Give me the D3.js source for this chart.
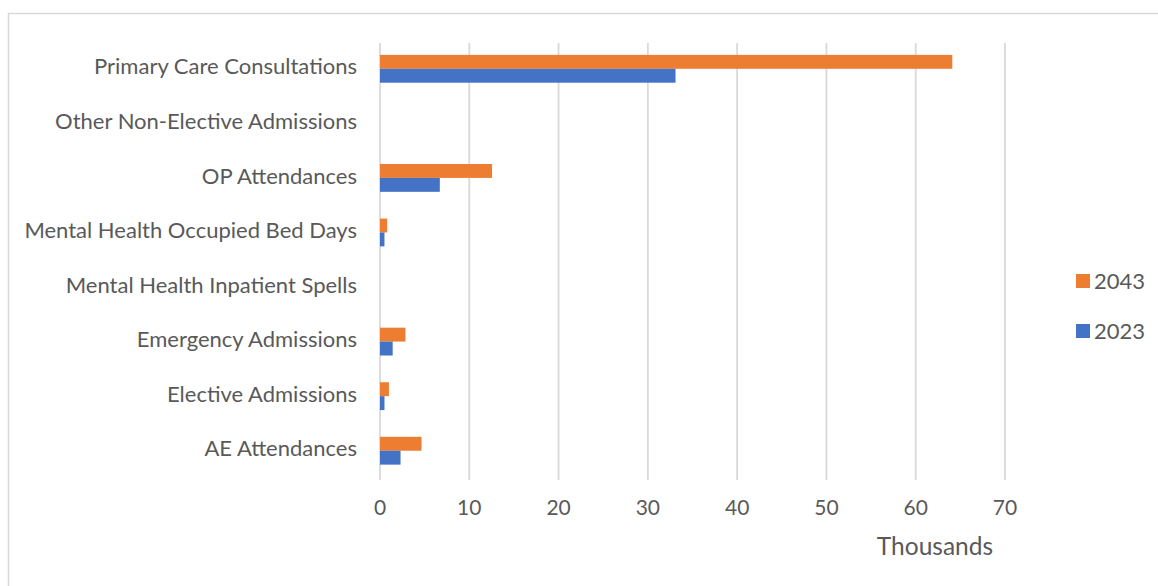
<!DOCTYPE html>
<html>
<head>
<meta charset="utf-8">
<script src="https://cdn.jsdelivr.net/npm/d3@7"></script>
<style>
  html, body { margin: 0; padding: 0; background: #fff; }
  svg text { font-family: Lato, "Open Sans", sans-serif; fill: #595959; }
</style>
</head>
<body>
<svg id="chart" width="1158" height="586"></svg>
<script>
// Activity categories, top to bottom
const categories = [
  "Primary Care Consultations",
  "Other Non-Elective Admissions",
  "OP Attendances",
  "Mental Health Occupied Bed Days",
  "Mental Health Inpatient Spells",
  "Emergency Admissions",
  "Elective Admissions",
  "AE Attendances"
];
// Values in thousands
const values2043 = [64.1, 0, 12.55, 0.8, 0, 2.85, 1.0, 4.65];
const values2023 = [33.1, 0, 6.7, 0.5, 0, 1.42, 0.5, 2.3];
const seriesNames = ["2043", "2023"];
const seriesColors = ["#ED7D31", "#4472C4"];
const xTicks = [0, 10, 20, 30, 40, 50, 60, 70];
const xTitle = "Thousands";

const svg = d3.select("#chart");

// outer frame
svg.append("rect")
  .attr("x", 8.5).attr("y", 13.5)
  .attr("width", 1158).attr("height", 586)
  .attr("fill", "none").attr("stroke", "#d9d9d9").attr("stroke-width", 1.5);

const x = d3.scaleLinear().domain([0, 70]).range([380, 1005]);
const y = d3.scaleBand().domain(categories).range([41.5, 478])
  .paddingInner(0.49).paddingOuter(0.245);
const sub = d3.scaleBand().domain(seriesNames).range([0, y.bandwidth()]);

// vertical gridlines
svg.append("g").selectAll("line").data(xTicks).join("line")
  .attr("x1", d => x(d)).attr("x2", d => x(d))
  .attr("y1", 43).attr("y2", 480)
  .attr("stroke", "#d9d9d9").attr("stroke-width", 1.8);

// bars
const series = [values2043, values2023];
series.forEach((vals, si) => {
  svg.append("g").selectAll("rect").data(categories).join("rect")
    .attr("x", x(0))
    .attr("y", c => y(c) + sub(seriesNames[si]))
    .attr("width", (c, i) => x(vals[i]) - x(0))
    .attr("height", sub.bandwidth())
    .attr("fill", seriesColors[si]);
});

// x tick labels
svg.append("g").selectAll("text").data(xTicks).join("text")
  .attr("x", d => x(d)).attr("y", 508)
  .attr("dy", "0.35em")
  .attr("text-anchor", "middle")
  .attr("font-size", 21)
  .text(d => d);

svg.append("text")
  .attr("x", 935).attr("y", 546)
  .attr("dy", "0.35em")
  .attr("text-anchor", "middle")
  .attr("font-size", 24.5)
  .text(xTitle);

// category labels
svg.append("g").selectAll("text").data(categories).join("text")
  .attr("x", 357)
  .attr("y", c => y(c) + y.bandwidth() / 2 - 2)
  .attr("dy", "0.35em")
  .attr("text-anchor", "end")
  .attr("font-size", 22)
  .text(c => c);

// legend
const legend = svg.append("g").selectAll("g").data(seriesNames).join("g")
  .attr("transform", (d, i) => `translate(1076, ${274 + i * 50})`);
legend.append("rect").attr("width", 14).attr("height", 14)
  .attr("fill", (d, i) => seriesColors[i]);
legend.append("text").attr("x", 18).attr("y", 7).attr("dy", "0.35em")
  .attr("font-size", 22)
  .text(d => d);
</script>
</body>
</html>
